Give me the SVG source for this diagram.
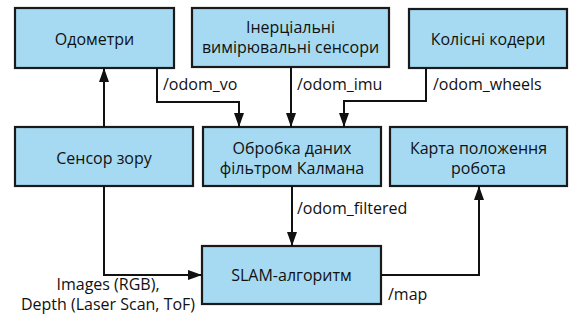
<svg xmlns="http://www.w3.org/2000/svg" width="588" height="324" viewBox="0 0 588 324">
<defs>
<marker id="arr" markerUnits="userSpaceOnUse" markerWidth="14" markerHeight="10" refX="14" refY="5" orient="auto">
<path d="M0,0 L14,5 L0,10 z" fill="#111"/>
</marker>
<style>
.box{fill:#a5daf2;stroke:#1a1a1a;stroke-width:2.2}
.t{font-family:"Open Sans","Noto Sans",sans-serif;font-size:16px;fill:#111;text-anchor:middle}
.l{font-family:"Open Sans","Noto Sans",sans-serif;font-size:16px;fill:#111}
.c{fill:none;stroke:#111;stroke-width:2;marker-end:url(#arr)}
</style>
</defs>
<rect width="588" height="324" fill="#fff"/>
<g id="odometry"><rect class="box" x="15" y="8" width="159" height="60"/><text class="t" x="94.5" y="45">Одометри</text></g>
<g id="imu"><rect class="box" x="192" y="8" width="197" height="59"/><text class="t" x="290.5" y="33">Інерціальні</text><text class="t" x="290.5" y="53">вимірювальні сенсори</text></g>
<g id="wheels"><rect class="box" x="409" y="9" width="158" height="59"/><text class="t" x="488" y="45">Колісні кодери</text></g>
<g id="vision"><rect class="box" x="15" y="127" width="178" height="59"/><text class="t" x="104" y="164">Сенсор зору</text></g>
<g id="kalman"><rect class="box" x="203" y="127" width="178" height="59"/><text class="t" x="292" y="154">Обробка даних</text><text class="t" x="292" y="174">фільтром Калмана</text></g>
<g id="map"><rect class="box" x="390" y="127" width="177" height="59"/><text class="t" x="478.5" y="154">Карта положення</text><text class="t" x="478.5" y="174">робота</text></g>
<g id="slam"><rect class="box" x="202" y="246" width="179" height="58"/><text class="t" x="291.5" y="281">SLAM-алгоритм</text></g>
<g id="connectors">
<path class="c" d="M104,127 V68"/>
<path class="c" d="M157,68 V102 H239 V127"/>
<path class="c" d="M291,67 V127"/>
<path class="c" d="M426,68 V101 H344 V127"/>
<path class="c" d="M292,186 V246"/>
<path class="c" d="M104,186 V275 H202"/>
<path class="c" d="M381,275 H479 V186"/>
<text class="l" x="163" y="90">/odom_vo</text>
<text class="l" x="297" y="90">/odom_imu</text>
<text class="l" x="433" y="90">/odom_wheels</text>
<text class="l" x="297" y="214">/odom_filtered</text>
<text class="t" x="108" y="290">Images (RGB),</text>
<text class="t" x="108" y="310">Depth (Laser Scan, ToF)</text>
<text class="l" x="388" y="300">/map</text>
</g>
</svg>
